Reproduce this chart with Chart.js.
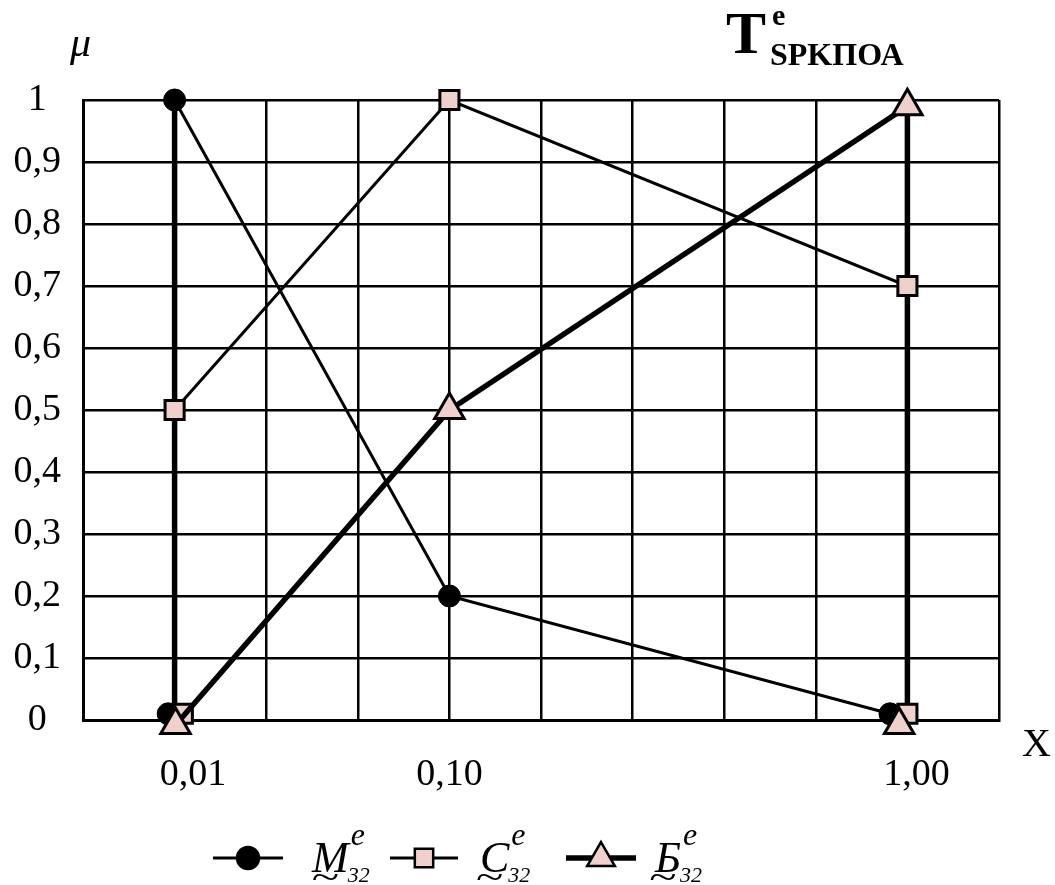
<!DOCTYPE html>
<html><head><meta charset="utf-8">
<script src="https://cdn.jsdelivr.net/npm/chart.js@4"></script>
<style>html,body{margin:0;padding:0;background:#fff}#wrap{width:1055px;height:885px;position:relative}</style>
</head><body><div id="wrap"><canvas id="c"></canvas></div>
<script>
// ---- data ----
const xTickLabels = ['0,01', '0,10', '1,00'];
const xTickPos = [1.2, 4, 9.1];
const yTickValues = [0, 0.1, 0.2, 0.3, 0.4, 0.5, 0.6, 0.7, 0.8, 0.9, 1];
const seriesNames = ['M', 'C', 'Б'];
// M (circles); null = gap (unconnected marker)
const mX = [0.93, null, 1, 4, 8.81];
const mY = [0.01, null, 1, 0.2, 0.01];
// C (squares)
const cX = [1.09, null, 1, 4, 9, 9];
const cY = [0.01, null, 0.5, 1, 0.7, 0.01];
// Б (triangles)
const bX = [1.01, 4, 9, null, 8.91];
const bY = [-0.008, 0.5, 0.99, null, -0.008];
// thick boundary lines at 0,01 and 1,00
const boundX = [1, 1, null, 9, 9];
const boundY = [0, 1, null, 1, 0];

const PINK = '#F0D0CD';
const FONT = "'Liberation Serif', 'Times New Roman', serif";
const toPts = (xs, ys) => xs.map((x, i) => ({x: x, y: ys[i]}));

const extraText = {
  id: 'extraText',
  afterDraw(chart) {
    const ctx = chart.ctx;
    ctx.save();
    ctx.fillStyle = '#000';
    ctx.textBaseline = 'alphabetic';
    // mu
    ctx.font = 'italic 42px ' + FONT;
    ctx.textAlign = 'left';
    ctx.fillText('μ', 70, 56);
    // x
    ctx.font = '40px ' + FONT;
    ctx.fillText('X', 1022, 756);
    // title
    ctx.font = 'bold 60px ' + FONT;
    ctx.fillText('T', 726, 53);
    ctx.font = 'bold 30px ' + FONT;
    ctx.fillText('e', 772, 25);
    ctx.font = 'bold 32px ' + FONT;
    ctx.fillText('SPKПОА', 770, 65);

    // legend
    const ly = 858;
    const items = [
      {x0: 213, x1: 283, lw: 3, style: 'circle', r: 11, fill: '#000', label: seriesNames[0], tx: 312},
      {x0: 390, x1: 458, lw: 3, style: 'rect', r: 13, fill: PINK, label: seriesNames[1], tx: 480},
      {x0: 566, x1: 636, lw: 5.5, style: 'triangle', r: 16, fill: PINK, label: seriesNames[2], tx: 655}
    ];
    items.forEach(it => {
      ctx.strokeStyle = '#000';
      ctx.lineWidth = it.lw;
      ctx.beginPath(); ctx.moveTo(it.x0, ly); ctx.lineTo(it.x1, ly); ctx.stroke();
      ctx.fillStyle = it.fill;
      ctx.lineWidth = 2.5;
      Chart.helpers.drawPoint(ctx, {pointStyle: it.style, radius: it.r, borderWidth: 2.5, rotation: 0}, (it.x0 + it.x1) / 2, ly);
      ctx.fillStyle = '#000';
      ctx.font = 'italic 44px ' + FONT;
      ctx.textAlign = 'left';
      ctx.textBaseline = 'alphabetic';
      ctx.fillText(it.label, it.tx, 872);
      const w = ctx.measureText(it.label).width;
      ctx.font = 'italic 32px ' + FONT;
      ctx.fillText('e', it.tx + w + 2, 845);
      ctx.font = 'italic 22px ' + FONT;
      ctx.fillText('32', it.tx + w - 1, 882);
      // tilde under the letter
      ctx.save();
      ctx.translate(it.tx + w / 2 - 5, 880);
      ctx.scale(1.4, 1);
      ctx.font = '36px ' + FONT;
      ctx.textAlign = 'center';
      ctx.textBaseline = 'middle';
      ctx.fillText('~', 0, 0);
      ctx.restore();
    });
    ctx.restore();
  }
};

new Chart(document.getElementById('c'), {
  type: 'scatter',
  data: {
    datasets: [
      {label: 'M', data: toPts(mX, mY), showLine: true, borderColor: '#000', borderWidth: 3,
       pointStyle: 'circle', pointRadius: 11, pointBackgroundColor: '#000', pointBorderColor: '#000',
       pointBorderWidth: 1, clip: false, order: 3, spanGaps: false},
      {label: 'C', data: toPts(cX, cY), showLine: true, borderColor: '#000', borderWidth: 3,
       pointStyle: 'rect', pointRadius: 13.5, pointBackgroundColor: PINK, pointBorderColor: '#000',
       pointBorderWidth: 3, clip: false, order: 2, spanGaps: false},
      {label: 'Б', data: toPts(bX, bY), showLine: true, borderColor: '#000', borderWidth: 5.5,
       pointStyle: 'triangle', pointRadius: 17, pointBackgroundColor: PINK, pointBorderColor: '#000',
       pointBorderWidth: 3, clip: false, order: 1, spanGaps: false},
      {label: 'bounds', data: toPts(boundX, boundY), showLine: true, borderColor: '#000', borderWidth: 5.5,
       pointRadius: 0, clip: false, order: 4, spanGaps: false}
    ]
  },
  options: {
    responsive: true,
    maintainAspectRatio: false,
    animation: false,
    events: [],
    layout: {padding: {top: 100, right: 56, left: 0, bottom: 0}},
    plugins: {legend: {display: false}, tooltip: {enabled: false}, title: {display: false}},
    scales: {
      x: {
        type: 'linear', min: 0, max: 10, position: 'bottom',
        ticks: {display: false, stepSize: 1},
        grid: {color: '#000', lineWidth: 2.5, drawTicks: false},
        border: {display: true, color: '#000', width: 3},
        afterFit: s => { s.height = 0; }
      },
      x2: {
        type: 'linear', min: 0, max: 10, position: 'bottom',
        grid: {display: false, drawTicks: false},
        border: {display: false},
        afterBuildTicks: s => { s.ticks = xTickPos.map(v => ({value: v})); },
        ticks: {
          autoSkip: false, maxRotation: 0, padding: 32, color: '#000',
          font: {family: FONT, size: 38},
          callback: v => { const i = xTickPos.indexOf(v); return i >= 0 ? xTickLabels[i] : ''; }
        },
        afterFit: s => { s.height = 165; }
      },
      y: {
        type: 'linear', min: 0, max: 1,
        afterBuildTicks: s => { s.ticks = yTickValues.map(v => ({value: v})); },
        ticks: {
          color: '#000', padding: 22, crossAlign: 'center',
          font: {family: FONT, size: 38},
          callback: v => (v === 0 ? '0' : v === 1 ? '1' : v.toFixed(1).replace('.', ','))
        },
        grid: {color: '#000', lineWidth: 2.5, drawTicks: false},
        border: {display: true, color: '#000', width: 3},
        afterFit: s => { s.width = 83; }
      }
    }
  },
  plugins: [extraText]
});
</script>
</body></html>
